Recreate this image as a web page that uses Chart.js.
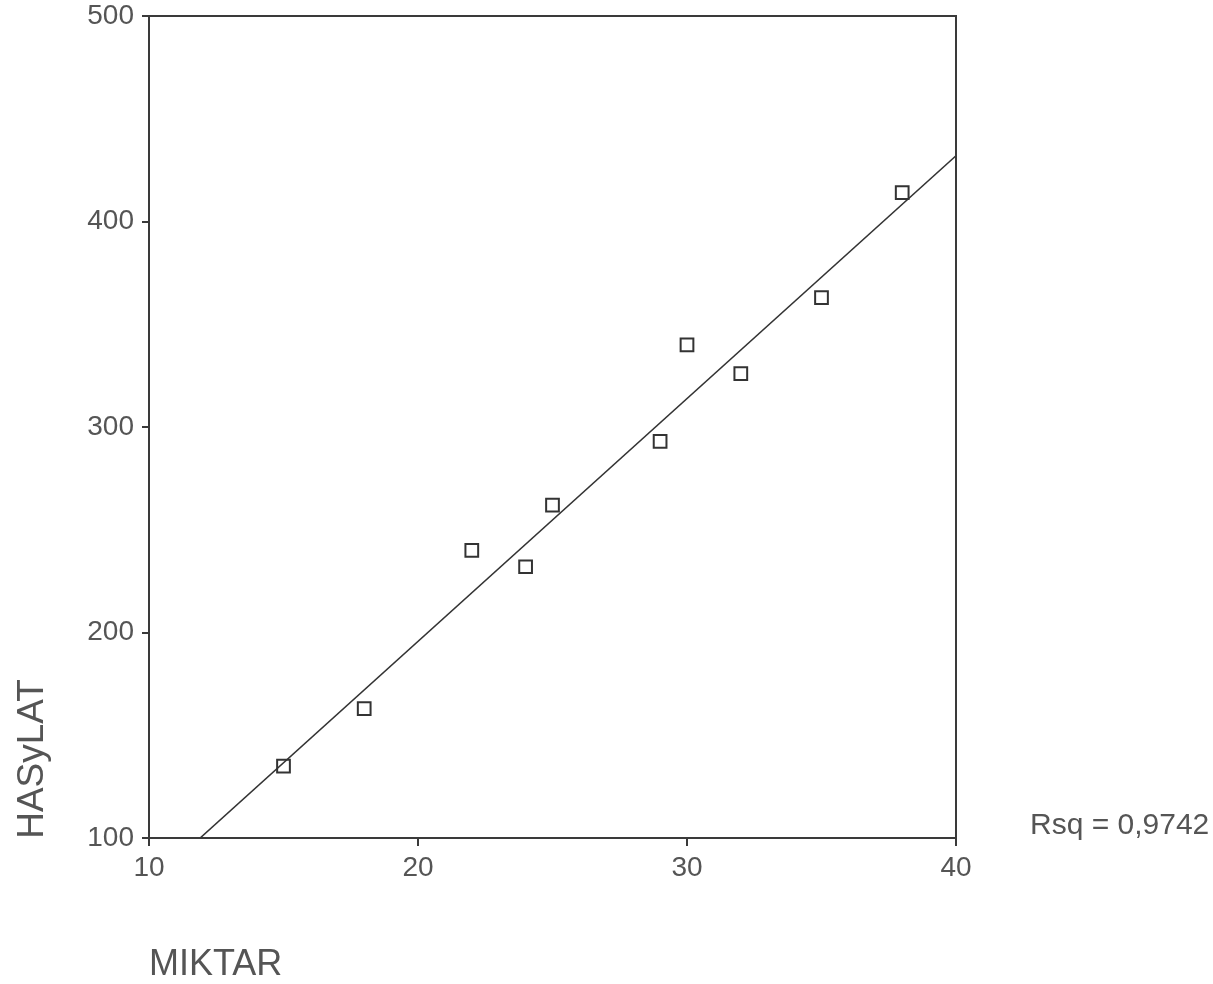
<!DOCTYPE html>
<html>
<head>
<meta charset="utf-8">
<script src="https://cdn.jsdelivr.net/npm/chart.js@4/dist/chart.umd.min.js"></script>
<style>
  html, body { margin: 0; padding: 0; background: #fff; }
  #wrap { width: 1213px; height: 984px; }
</style>
</head>
<body>
<div id="wrap"><canvas id="chart"></canvas></div>
<script>
// MIKTAR vs HASyLAT
const miktar = [15, 18, 22, 24, 25, 29, 30, 32, 35, 38]
const hasilat = [135, 163, 240, 232, 262, 293, 340, 326, 363, 414]

// fitted line, start and end as seen in the picture
const fitX = [11.9, 40]
const fitY = [100, 432]

const xTicks = [10, 20, 30, 40]
const yTicks = [100, 200, 300, 400, 500]
const rsqText = "Rsq = 0,9742"

const ink = "#3a3a3a"
const textInk = "#555"
const font = "'Liberation Sans', Arial, sans-serif"

const frame = {
  id: "frame",
  beforeDraw(chart) {
    const ctx = chart.ctx
    ctx.save()
    ctx.fillStyle = "#fff"
    ctx.fillRect(0, 0, chart.width, chart.height)
    ctx.restore()
  },
  afterDraw(chart) {
    const {ctx, chartArea: a} = chart
    ctx.save()
    ctx.strokeStyle = ink
    ctx.lineWidth = 2
    ctx.strokeRect(a.left, a.top, a.right - a.left, a.bottom - a.top)

    ctx.fillStyle = textInk
    // x title, left aligned under the axis
    ctx.font = `36px ${font}`
    ctx.textAlign = "left"
    ctx.textBaseline = "middle"
    ctx.fillText("MIKTAR", a.left, 965)

    // Rsq note right of the plot
    ctx.font = `30px ${font}`
    ctx.fillText(rsqText, 1030, 826)

    // y title, rotated, near the bottom
    ctx.translate(33, 759)
    ctx.rotate(-Math.PI / 2)
    ctx.font = `37px ${font}`
    ctx.textAlign = "center"
    ctx.fillText("HASyLAT", 0, 0)
    ctx.restore()
  }
}

new Chart(document.getElementById("chart"), {
  type: "scatter",
  data: {
    datasets: [{
      label: "HASyLAT",
      data: miktar.map((x, i) => ({x: x, y: hasilat[i]})),
      pointStyle: "rect",
      pointRadius: 9,
      pointBorderWidth: 2,
      pointBorderColor: "#333",
      pointBackgroundColor: "rgba(255,255,255,0)",
      showLine: false
    }, {
      label: "fit",
      data: fitX.map((x, i) => ({x: x, y: fitY[i]})),
      showLine: true,
      borderColor: "#333",
      borderWidth: 1.6,
      pointRadius: 0
    }]
  },
  options: {
    responsive: true,
    maintainAspectRatio: false,
    animation: false,
    layout: {padding: {left: 0, top: 16, right: 257, bottom: 0}},
    plugins: {legend: {display: false}, tooltip: {enabled: false}},
    scales: {
      x: {
        type: "linear",
        min: 10,
        max: 40,
        afterFit: (s) => { s.height = 146; s.paddingLeft = 0; s.paddingRight = 0 },
        afterBuildTicks: (s) => { s.ticks = xTicks.map(v => ({value: v})) },
        grid: {drawOnChartArea: false, drawTicks: true, tickLength: 8, color: ink, lineWidth: 2},
        border: {display: false},
        ticks: {color: textInk, padding: 5, font: {family: font, size: 28}}
      },
      y: {
        type: "linear",
        min: 100,
        max: 500,
        afterFit: (s) => { s.width = 149; s.paddingTop = 0; s.paddingBottom = 0 },
        afterBuildTicks: (s) => { s.ticks = yTicks.map(v => ({value: v})) },
        grid: {drawOnChartArea: false, drawTicks: true, tickLength: 7, color: ink, lineWidth: 2},
        border: {display: false},
        ticks: {color: textInk, padding: 8, font: {family: font, size: 28}}
      }
    }
  },
  plugins: [frame]
})
</script>
</body>
</html>
